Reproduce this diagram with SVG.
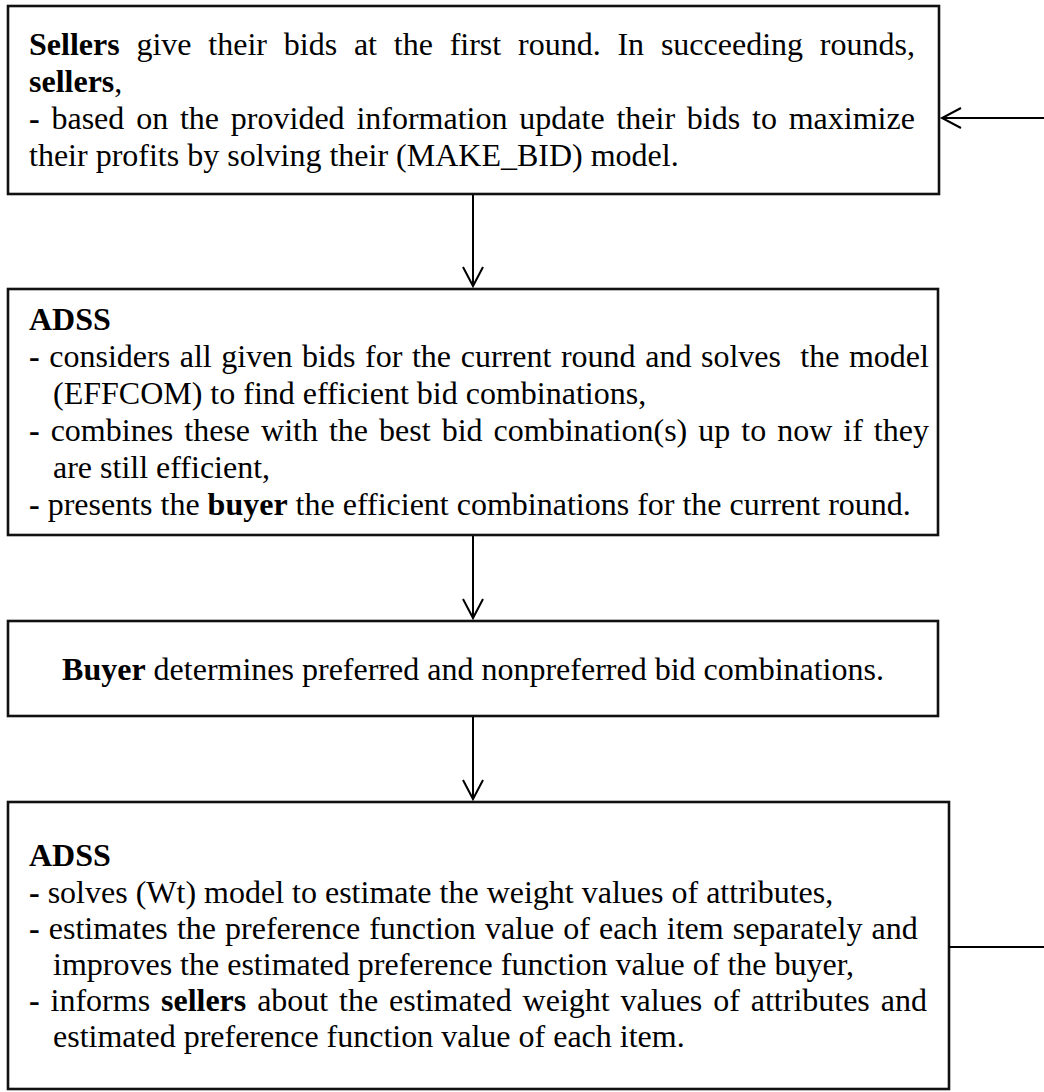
<svg xmlns="http://www.w3.org/2000/svg" width="1044" height="1092" viewBox="0 0 1044 1092" font-family="'Liberation Serif', 'Times New Roman', Tinos, 'DejaVu Serif', serif">
  <style>
    .box { fill: #ffffff; stroke: #111111; stroke-width: 2.6; }
    .link { fill: none; stroke: #000000; stroke-width: 2; }
    text { font-family: 'Liberation Serif', 'Times New Roman', Tinos, 'DejaVu Serif', serif; font-size: 32px; fill: #000000; white-space: pre; }
    .b { font-weight: bold; }
    .mid { text-anchor: middle; }
  </style>
  <defs>
    <marker id="open-arrow" markerUnits="userSpaceOnUse" viewBox="-2 -2 24 24" markerWidth="24" markerHeight="24" refX="19" refY="10" orient="auto">
      <path d="M0,0 L19,10 L0,20" fill="none" stroke="#000000" stroke-width="2"/>
    </marker>
  </defs>

  <rect width="1044" height="1092" fill="#ffffff"/>

  <!-- sellers place / update bids -->
  <g id="node-sellers-bid">
    <rect class="box" x="8" y="6" width="931" height="188"/>
    <text x="29" y="55" style="word-spacing:8.79px"><tspan class="b">Sellers</tspan> give their bids at the first round. In succeeding rounds,</text>
    <text x="29" y="92"><tspan class="b">sellers</tspan>,</text>
    <text x="29" y="129" style="word-spacing:3.81px"><tspan class="b">-</tspan> based on the provided information update their bids to maximize</text>
    <text x="29" y="166">their profits by solving their (MAKE_BID) model.</text>
  </g>

  <!-- ADSS finds efficient combinations -->
  <g id="node-adss-effcom">
    <rect class="box" x="8" y="289" width="930" height="246"/>
    <text class="b" x="29" y="330">ADSS</text>
    <text x="29" y="367" style="word-spacing:1.62px"><tspan class="b">-</tspan> considers all given bids for the current round and solves  the model</text>
    <text x="53" y="404">(EFFCOM) to find efficient bid combinations,</text>
    <text x="29" y="441" style="word-spacing:3.01px"><tspan class="b">-</tspan> combines these with the best bid combination(s) up to now if they</text>
    <text x="53" y="478">are still efficient,</text>
    <text x="29" y="515"><tspan class="b">-</tspan> presents the <tspan class="b">buyer</tspan> the efficient combinations for the current round.</text>
  </g>

  <!-- buyer preference -->
  <g id="node-buyer">
    <rect class="box" x="8" y="621" width="930" height="95"/>
    <text class="mid" x="473" y="680"><tspan class="b">Buyer</tspan> determines preferred and nonpreferred bid combinations.</text>
  </g>

  <!-- ADSS estimates weights and informs sellers -->
  <g id="node-adss-weights">
    <rect class="box" x="8" y="802" width="941" height="287"/>
    <text class="b" x="29" y="866">ADSS</text>
    <text x="29" y="903"><tspan class="b">-</tspan> solves (Wt) model to estimate the weight values of attributes,</text>
    <text x="29" y="939" style="word-spacing:1.09px"><tspan class="b">-</tspan> estimates the preference function value of each item separately and</text>
    <text x="53" y="975">improves the estimated preference function value of the buyer,</text>
    <text x="29" y="1011" style="word-spacing:2.88px"><tspan class="b">-</tspan> informs <tspan class="b">sellers</tspan> about the estimated weight values of attributes and</text>
    <text x="53" y="1047">estimated preference function value of each item.</text>
  </g>

  <!-- connectors -->
  <g id="connectors">
    <line class="link" x1="473" y1="195" x2="473" y2="286" marker-end="url(#open-arrow)"/>
    <line class="link" x1="473" y1="536" x2="473" y2="618" marker-end="url(#open-arrow)"/>
    <line class="link" x1="473" y1="717" x2="473" y2="799" marker-end="url(#open-arrow)"/>
    <line class="link" x1="949" y1="947" x2="1044" y2="947"/>
    <line class="link" x1="1044" y1="118" x2="942" y2="118" marker-end="url(#open-arrow)"/>
  </g>
</svg>
